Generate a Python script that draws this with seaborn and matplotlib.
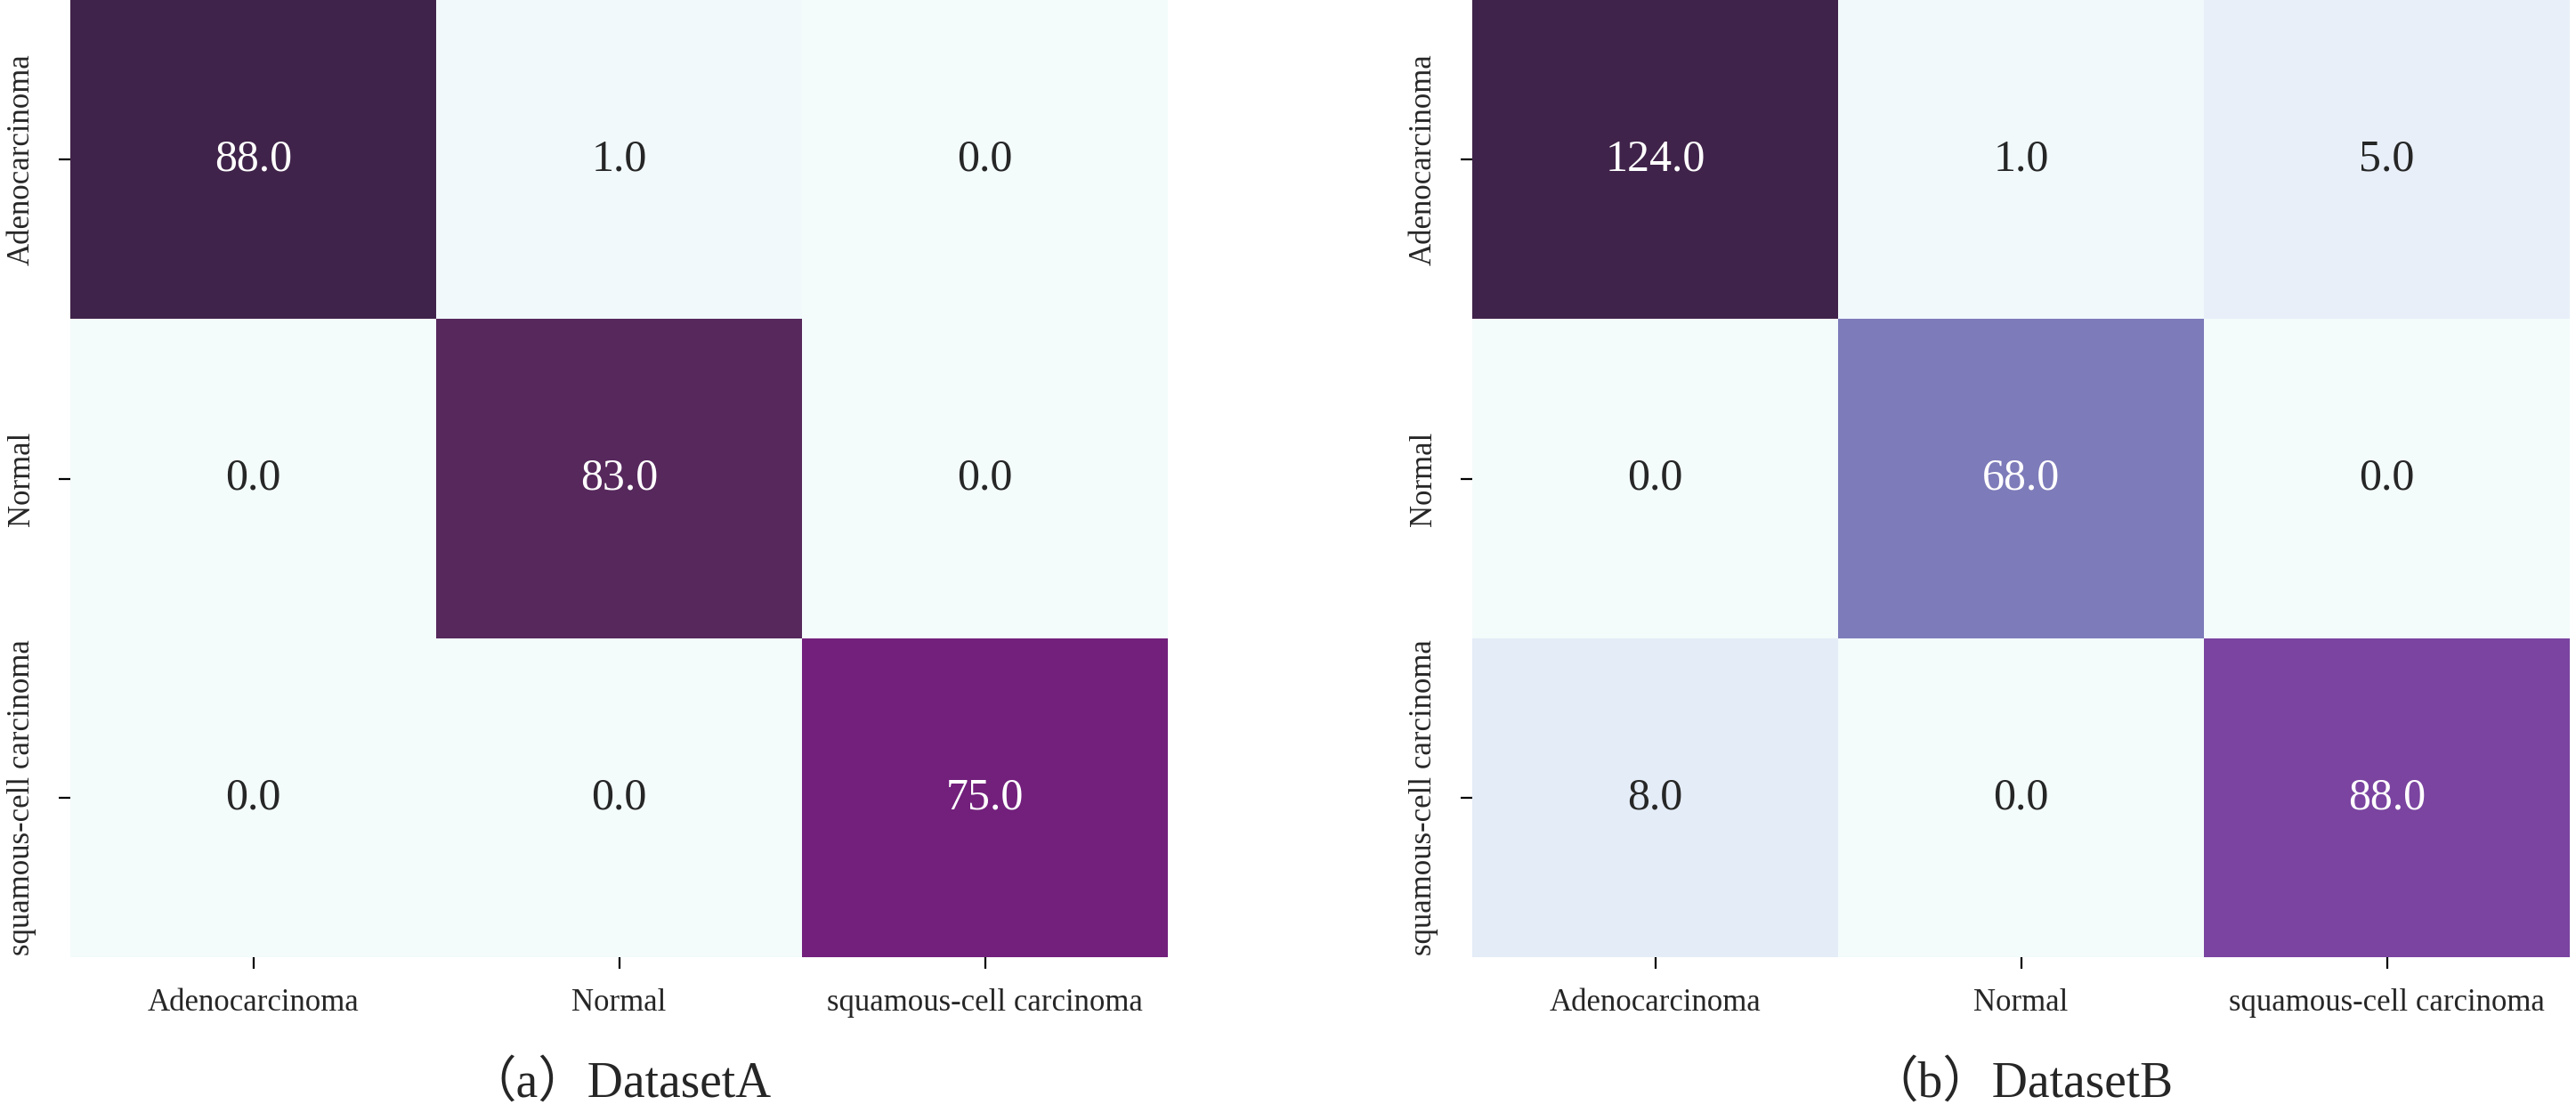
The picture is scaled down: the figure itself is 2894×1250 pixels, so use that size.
import matplotlib.pyplot as plt
import numpy as np
import seaborn as sns
from matplotlib.colors import LinearSegmentedColormap

# Data
classes = ['Adenocarcinoma', 'Normal', 'squamous-cell carcinoma']
cm_a = [[88.0, 1.0, 0.0],
        [0.0, 83.0, 0.0],
        [0.0, 0.0, 75.0]]
cm_b = [[124.0, 1.0, 5.0],
        [0.0, 68.0, 0.0],
        [8.0, 0.0, 88.0]]
captions = ['（a）DatasetA', '（b）DatasetB']

sns.set_style('white')
plt.rcParams['font.family'] = ['Liberation Serif', 'Noto Sans CJK SC']

# colour ramp (BuPu-like, slightly muted)
cmap = LinearSegmentedColormap.from_list('bupu_muted', [
    (0.0, '#f3fbfb'), (0.04, '#e8eff9'), (0.3, '#b6c8e2'),
    (0.55, '#7e7bba'), (0.71, '#7a44a0'), (0.85, '#74207e'),
    (0.94, '#58285e'), (1.0, '#40234a')])

fig = plt.figure(figsize=(14.47, 6.25), dpi=200)
ax1 = fig.add_axes([79 / 2894, 175 / 1250, (1312 - 79) / 2894, 1075 / 1250])
ax2 = fig.add_axes([1654 / 2894, 175 / 1250, (2887 - 1654) / 2894, 1075 / 1250])

for ax, cm, cap in zip([ax1, ax2], [cm_a, cm_b], captions):
    data = np.array(cm)
    sns.heatmap(data, ax=ax, annot=True, fmt='.1f', cmap=cmap, cbar=False,
                vmin=0, vmax=data.max(), square=False,
                xticklabels=classes, yticklabels=classes,
                annot_kws={'fontsize': 18})
    ax.tick_params(axis='both', bottom=True, left=True, length=4.7, width=0.8,
                   color='black', labelsize=12.5)
    ax.tick_params(axis='x', pad=8)
    ax.tick_params(axis='y', pad=9)
    ax.set_yticklabels(classes, rotation=90, va='center')
    ax.set_xticklabels(classes, rotation=0)
    ax.set_xlabel(cap, fontsize=20, labelpad=17)

fig.savefig('out.png', dpi=200)
